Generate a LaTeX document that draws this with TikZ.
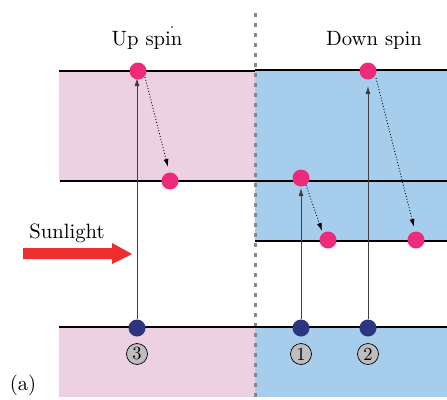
\documentclass[tikz,border=0pt]{standalone}
\usepackage{graphicx}
\usetikzlibrary{arrows.meta}
\definecolor{pinkband}{HTML}{EDD1E3}
\definecolor{blueband}{HTML}{A6CDEC}
\definecolor{electron}{HTML}{EE2A7B}
\definecolor{hole}{HTML}{2B3580}
\definecolor{sunred}{HTML}{EE2D2D}
\definecolor{divgrey}{HTML}{888888}
\definecolor{labgrey}{HTML}{BEBEBE}
\newcommand{\bigtxt}[1]{\scalebox{2.07}{\fontsize{10}{12}\selectfont #1}}
\newcommand{\numtxt}[1]{\scalebox{1.85}{\fontsize{10}{12}\selectfont #1}}
\tikzset{
  level/.style={line width=2.4pt, black},
  elec/.style={circle, fill=electron, minimum size=17pt, inner sep=0pt},
  holedot/.style={circle, fill=hole, minimum size=17pt, inner sep=0pt},
  excite/.style={line width=0.8pt, black!75, -{Latex[length=8pt,width=5pt]}},
  relax/.style={line width=0.9pt, black, dotted, -{Latex[length=8pt,width=5pt]}},
  numlab/.style={circle, draw=black, fill=labgrey, line width=0.7pt, minimum size=21pt, inner sep=0pt},
  txt/.style={inner sep=0pt}
}
\begin{document}
\begin{tikzpicture}[x=1pt,y=-1pt]
\useasboundingbox (0,0) rectangle (447,399);
% bands
\fill[pinkband] (59,71) rectangle (255,181);
\fill[pinkband] (59,327) rectangle (255,397);
\fill[blueband] (255,70) rectangle (447,241);
\fill[blueband] (255,327) rectangle (447,397);
% divider
\draw[divgrey, line width=3pt, dash pattern=on 4pt off 6pt] (255,13) -- (255,398);
% levels
\draw[level] (59,71) -- (255,71);
\draw[level] (255,70) -- (447,70);
\draw[level] (60,181) -- (447,181);
\draw[level] (255,241) -- (447,241);
\draw[level] (59,327) -- (447,327);
% titles
\node[txt] (up) at (147,40) {\bigtxt{Up spin}};
\node[txt] (down) at (374,40) {\bigtxt{Down spin}};
\fill (172,27) circle (0.8pt);
\node[txt] (sun) at (67,233) {\bigtxt{Sunlight}};
\node[txt] (a) at (23,385) {\bigtxt{(a)}};
% sunlight arrow
\fill[sunred] (23,248) -- (112,248) -- (112,243) -- (132,254) -- (112,264) -- (112,259) -- (23,259) -- cycle;
% holes
\node[holedot] (h3) at (137,328) {};
\node[holedot] (h1) at (301,328) {};
\node[holedot] (h2) at (368,328) {};
% electrons
\node[elec] (e3) at (138,71) {};
\node[elec] (e3b) at (170,181) {};
\node[elec] (e1) at (301,178) {};
\node[elec] (e1b) at (328,240) {};
\node[elec] (e2) at (368,71) {};
\node[elec] (e2b) at (416,240) {};
% excitations
\draw[excite] (h3.north) -- (137,78);
\draw[excite] (h1.north) -- (301,188);
\draw[excite] (h2.north) -- (368,86);
% relaxations
\draw[relax] (145,77) -- (168,167);
\draw[relax] (306,185) -- (322,231);
\draw[relax] (376,78) -- (414,227);
% labels
\node[numlab] (n3) at (137,354) {\numtxt{3}};
\node[numlab] (n1) at (301,354) {\numtxt{1}};
\node[numlab] (n2) at (368,354) {\numtxt{2}};
\end{tikzpicture}
\end{document}
